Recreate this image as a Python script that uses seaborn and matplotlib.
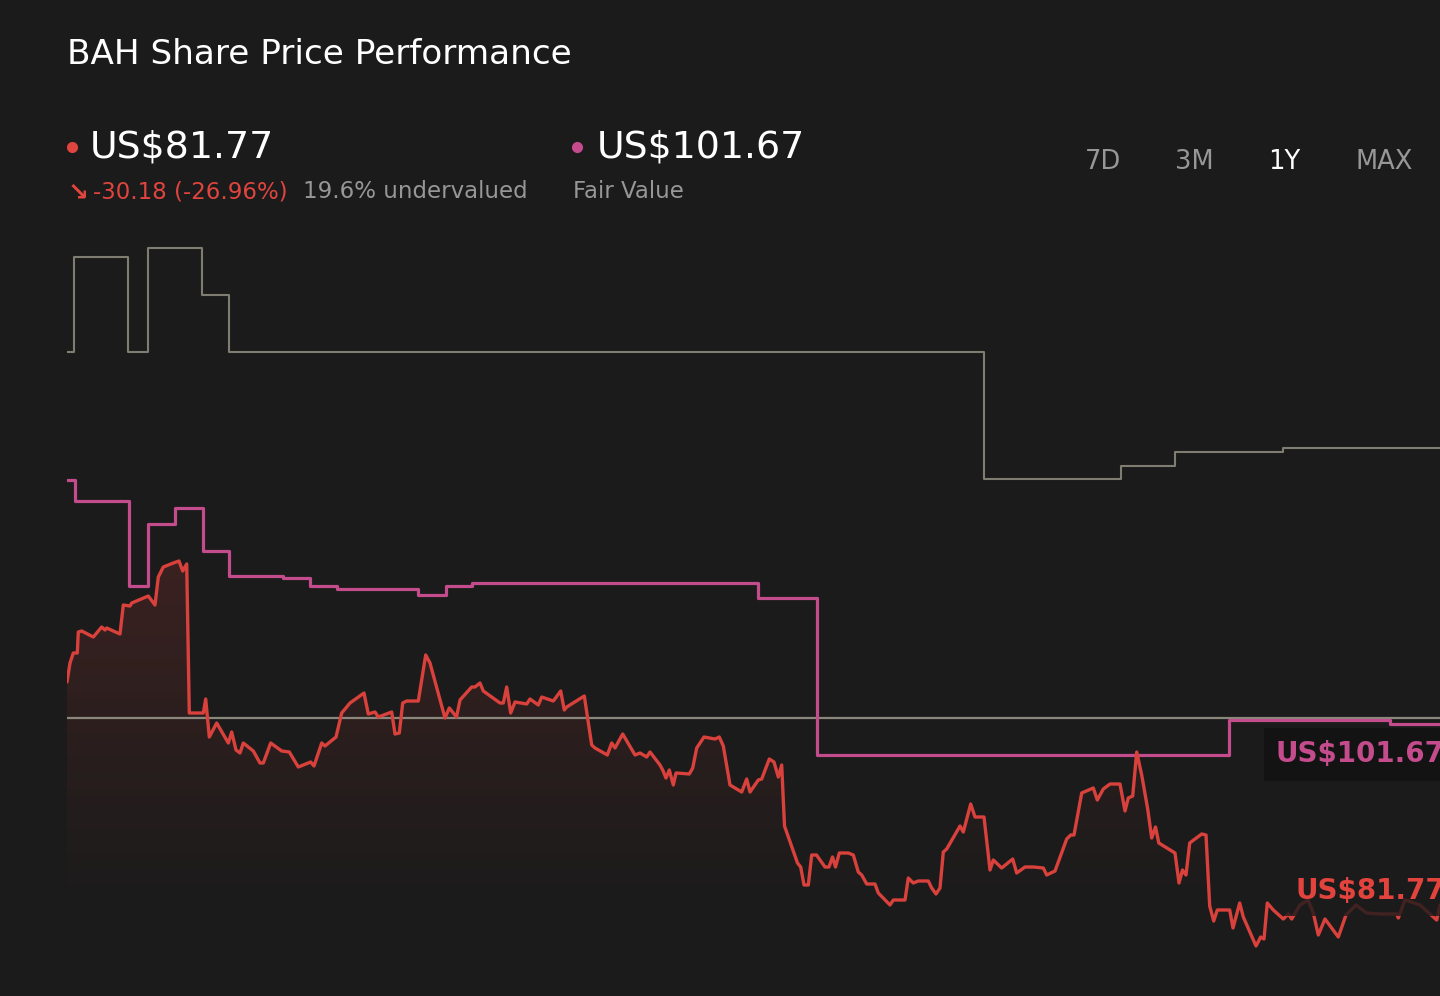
import numpy as np
import matplotlib
matplotlib.use('Agg')
import matplotlib.pyplot as plt
from matplotlib.lines import Line2D
import matplotlib.colors as mcolors
import seaborn as sns

BG = '#1b1b1b'
RED = '#d9413c'
PINK = '#c44b8c'
GREY = '#7f7c72'
LIGHT = '#8a877c'
TXT_GREY = '#979797'

# ---- data (t = time index, values in US$) ----
price_t = [0.0, 0.3, 0.63, 1.03, 1.13, 1.47, 2.63, 3.47, 3.8, 3.97, 5.3, 5.63, 6.3, 6.47, 8.13, 8.8, 9.13, 9.63,
           10.63, 11.2, 11.57, 11.97, 12.23, 13.63, 13.87, 14.23, 14.97, 16.13, 16.47, 16.9, 17.3, 17.63, 18.63,
           19.3, 19.63, 20.37, 21.47, 22.23, 23.13, 24.37, 24.7, 25.47, 25.8, 26.9, 27.47, 28.3, 29.7, 30.13, 30.8,
           31.13, 32.47, 32.8, 33.23, 33.57, 33.97, 35.13, 35.87, 36.3, 37.8, 38.23, 38.95, 39.3, 40.47, 40.8, 41.3,
           41.63, 43.3, 43.63, 43.97, 44.37, 44.8, 45.97, 46.3, 47.13, 47.47, 48.63, 49.37, 49.73, 49.97, 51.73,
           52.47, 52.8, 54.03, 54.47, 54.8, 55.57, 56.8, 57.3, 57.97, 58.3, 59.3, 59.57, 59.9, 60.23, 60.63, 60.9,
           62.23, 62.57, 62.97, 63.7, 64.8, 65.23, 65.63, 66.3, 67.47, 67.97, 68.3, 69.13, 69.47, 70.23, 70.7,
           71.13, 71.47, 71.75, 73.05, 73.37, 73.7, 74.13, 74.47, 74.95, 75.8, 76.2, 76.55, 76.85, 77.23, 78.13,
           78.63, 79.13, 79.47, 79.97, 80.8, 81.13, 82.3, 82.63, 83.8, 84.13, 84.63, 85.13, 86.13, 86.47, 86.9,
           87.3, 87.63, 87.97, 89.3, 89.63, 90.37, 90.8, 91.7, 92.3, 92.63, 93.47, 94.57, 94.97, 95.8, 96.63,
           97.63, 97.97, 98.8, 99.97, 100.37, 100.7, 101.47, 102.63, 103.03, 103.63, 104.3, 105.3, 105.8, 106.13,
           106.57, 106.97, 107.47, 108.07, 108.47, 108.85, 109.18, 110.8, 111.2, 111.55, 111.9, 112.27, 113.47,
           113.9, 114.27, 114.67, 115.03, 116.27, 116.6, 117.27, 117.63, 118.9, 119.37, 119.7, 120.03, 120.63,
           121.63, 122.13, 122.47, 123.3, 124.1, 124.63, 125.13, 125.8, 127.13, 127.9, 128.9, 129.97, 131.3,
           132.97, 133.13, 133.8, 135.3, 136.63, 136.97, 137.3]
price_v = [105.8, 107.7, 108.7, 108.7, 110.8, 110.9, 110.3, 111.3, 111.0, 111.2, 110.6, 113.5, 113.4, 113.7, 114.4,
           113.5, 116.3, 117.3, 117.7, 117.9, 116.9, 117.6, 102.7, 102.7, 104.1, 100.3, 101.7, 99.7, 100.8, 99.0,
           98.7, 99.7, 98.9, 97.7, 97.7, 99.7, 98.9, 98.8, 97.3, 97.8, 97.4, 99.7, 99.4, 100.3, 102.7, 103.7, 104.7,
           102.6, 102.8, 102.3, 102.8, 100.6, 100.7, 103.7, 103.9, 103.9, 108.5, 107.7, 102.2, 103.2, 102.3, 104.0,
           105.3, 105.3, 105.7, 104.9, 103.7, 103.7, 105.3, 102.7, 103.8, 103.6, 104.1, 103.5, 104.3, 103.9, 104.9,
           103.0, 103.3, 104.4, 99.5, 99.2, 98.5, 99.7, 99.2, 100.6, 98.5, 98.7, 98.3, 98.8, 97.5, 97.0, 96.2, 97.0,
           95.5, 96.7, 96.6, 97.2, 99.2, 100.3, 100.1, 100.3, 99.4, 95.5, 94.8, 96.1, 94.8, 96.0, 96.1, 98.1, 97.8,
           96.3, 97.5, 91.4, 87.7, 87.3, 85.5, 85.5, 88.5, 88.5, 87.3, 87.3, 88.3, 87.3, 88.7, 88.7, 88.5, 86.8,
           86.5, 85.6, 85.6, 84.7, 83.5, 84.0, 84.0, 86.2, 85.7, 85.9, 85.9, 85.2, 84.6, 85.2, 88.8, 89.1, 91.4,
           90.8, 93.6, 92.3, 92.3, 87.0, 88.0, 87.2, 88.1, 86.7, 87.3, 87.3, 87.2, 86.5, 86.9, 90.1, 90.5, 90.5,
           94.7, 95.2, 94.0, 95.1, 95.6, 95.6, 92.9, 94.2, 94.4, 98.8, 96.5, 93.1, 90.2, 91.3, 89.7, 88.7, 85.7,
           87.0, 86.5, 89.7, 90.6, 90.5, 83.4, 81.9, 83.0, 83.0, 81.2, 83.7, 82.3, 79.4, 80.3, 80.1, 83.7, 83.0,
           82.1, 82.6, 82.1, 83.5, 84.0, 82.7, 80.5, 82.1, 80.3, 82.5, 83.5, 82.7, 82.6, 82.6, 82.2, 84.0, 83.5,
           82.3, 82.0, 83.5]

fair_t = [0.0, 0.8, 6.23, 8.13, 10.8, 13.57, 16.23, 21.57, 24.3, 26.97, 35.13, 37.9, 40.47, 69.1, 75.0, 116.2,
          132.3, 137.3]
fair_v = [126.0, 123.9, 115.4, 121.6, 123.2, 118.9, 116.4, 116.2, 115.4, 115.1, 114.5, 115.4, 115.7, 114.2,
          98.5, 102.05, 101.6, 101.6]

high_t = [0.0, 0.7, 6.13, 8.13, 13.47, 16.17, 91.73, 105.37, 110.8, 121.63, 137.3]
high_v = [138.8, 148.3, 138.8, 149.2, 144.5, 138.8, 126.1, 127.4, 128.8, 129.2, 129.2]

ref_level = 102.2

title = "BAH Share Price Performance"
price_label = "US$81.77"
fair_label = "US$101.67"
change_label = "-30.18 (-26.96%)"
under_label = "19.6% undervalued"
fair_sub = "Fair Value"
periods = ["7D", "3M", "1Y", "MAX"]
period_x = [1085, 1175, 1268, 1355]
active_period = "1Y"

# ---- figure ----
sns.set_theme(style='dark', rc={'axes.facecolor': BG, 'figure.facecolor': BG,
                                'savefig.facecolor': BG})
plt.rcParams['font.family'] = ['DejaVu Sans']

W, H = 1440, 996
fig = plt.figure(figsize=(W / 100, H / 100), dpi=100)
fig.patch.set_facecolor(BG)

def f(px, py):
    return px / W, 1 - py / H

X0, X1 = 0.0, 137.3
Y0, Y1 = 74.4, 152.0
ax = fig.add_axes([67 / W, 0, (W - 67) / W, (H - 220) / H])
ax.set_facecolor(BG)

# gradient fill under price
poly = ax.fill_between(price_t, price_v, Y0, color='none', lw=0)
rgb = mcolors.to_rgb(RED)
grad = np.zeros((256, 1, 4))
grad[..., 0] = rgb[0]
grad[..., 1] = rgb[1]
grad[..., 2] = rgb[2]
grad[:, 0, 3] = np.linspace(0.17, 0.0, 256)
im = ax.imshow(grad, extent=[X0, X1, 83.0, 118.0], origin='upper', aspect='auto', zorder=1)
im.set_clip_path(poly.get_paths()[0], transform=ax.transData)

ax.axhline(ref_level, color=LIGHT, lw=1.6, zorder=2)
sns.lineplot(x=high_t, y=high_v, ax=ax, drawstyle='steps-post', estimator=None, sort=False,
             color=GREY, linewidth=1.5, zorder=3)
sns.lineplot(x=fair_t, y=fair_v, ax=ax, drawstyle='steps-post', estimator=None, sort=False,
             color=PINK, linewidth=2.3, zorder=4)
sns.lineplot(x=price_t, y=price_v, ax=ax, estimator=None, sort=False,
             color=RED, linewidth=2.4, zorder=5)

ax.set_xlim(X0, X1)
ax.set_ylim(Y0, Y1)
ax.set_xticks([])
ax.set_yticks([])
ax.set_xlabel('')
ax.set_ylabel('')
ax.grid(False)
for s in ax.spines.values():
    s.set_visible(False)

# right-edge value labels
fig.text(*f(1276, 754), fair_label, color=PINK, fontsize=20, fontweight='bold', va='center', ha='left',
         bbox=dict(boxstyle='square,pad=0.45', facecolor='#131313', edgecolor='none'), zorder=10)
fig.text(*f(1295, 891), price_label, color='#e2433d', fontsize=20, fontweight='bold', va='center', ha='left',
         bbox=dict(boxstyle='square,pad=0.4', facecolor=BG, alpha=0.8, edgecolor='none'), zorder=10)

# header
fig.text(*f(67, 54), title, color='white', fontsize=24.7, va='center', ha='left')
fig.add_artist(Line2D([72 / W], [1 - 147 / H], marker='o', markersize=7, color='#e0443e',
                      transform=fig.transFigure))
fig.text(*f(90, 147), price_label, color='white', fontsize=27.3, va='center', ha='left')
fig.add_artist(Line2D([577 / W], [1 - 147 / H], marker='o', markersize=7, color=PINK,
                      transform=fig.transFigure))
fig.text(*f(597, 147), fair_label, color='white', fontsize=27.3, va='center', ha='left')
fig.text(*f(68, 192), "\u2198", color='#e0443e', fontsize=18, va='center', ha='left', fontweight='bold')
fig.text(*f(93, 192), change_label, color='#e0443e', fontsize=16.5, va='center', ha='left')
fig.text(*f(303, 192), under_label, color=TXT_GREY, fontsize=16.5, va='center', ha='left')
fig.text(*f(573, 192), fair_sub, color=TXT_GREY, fontsize=16.5, va='center', ha='left')
for lab, px in zip(periods, period_x):
    fig.text(*f(px, 162), lab, color='white' if lab == active_period else TXT_GREY,
             fontsize=18.5, va='center', ha='left')

fig.savefig('out.png', dpi=100, facecolor=BG)
